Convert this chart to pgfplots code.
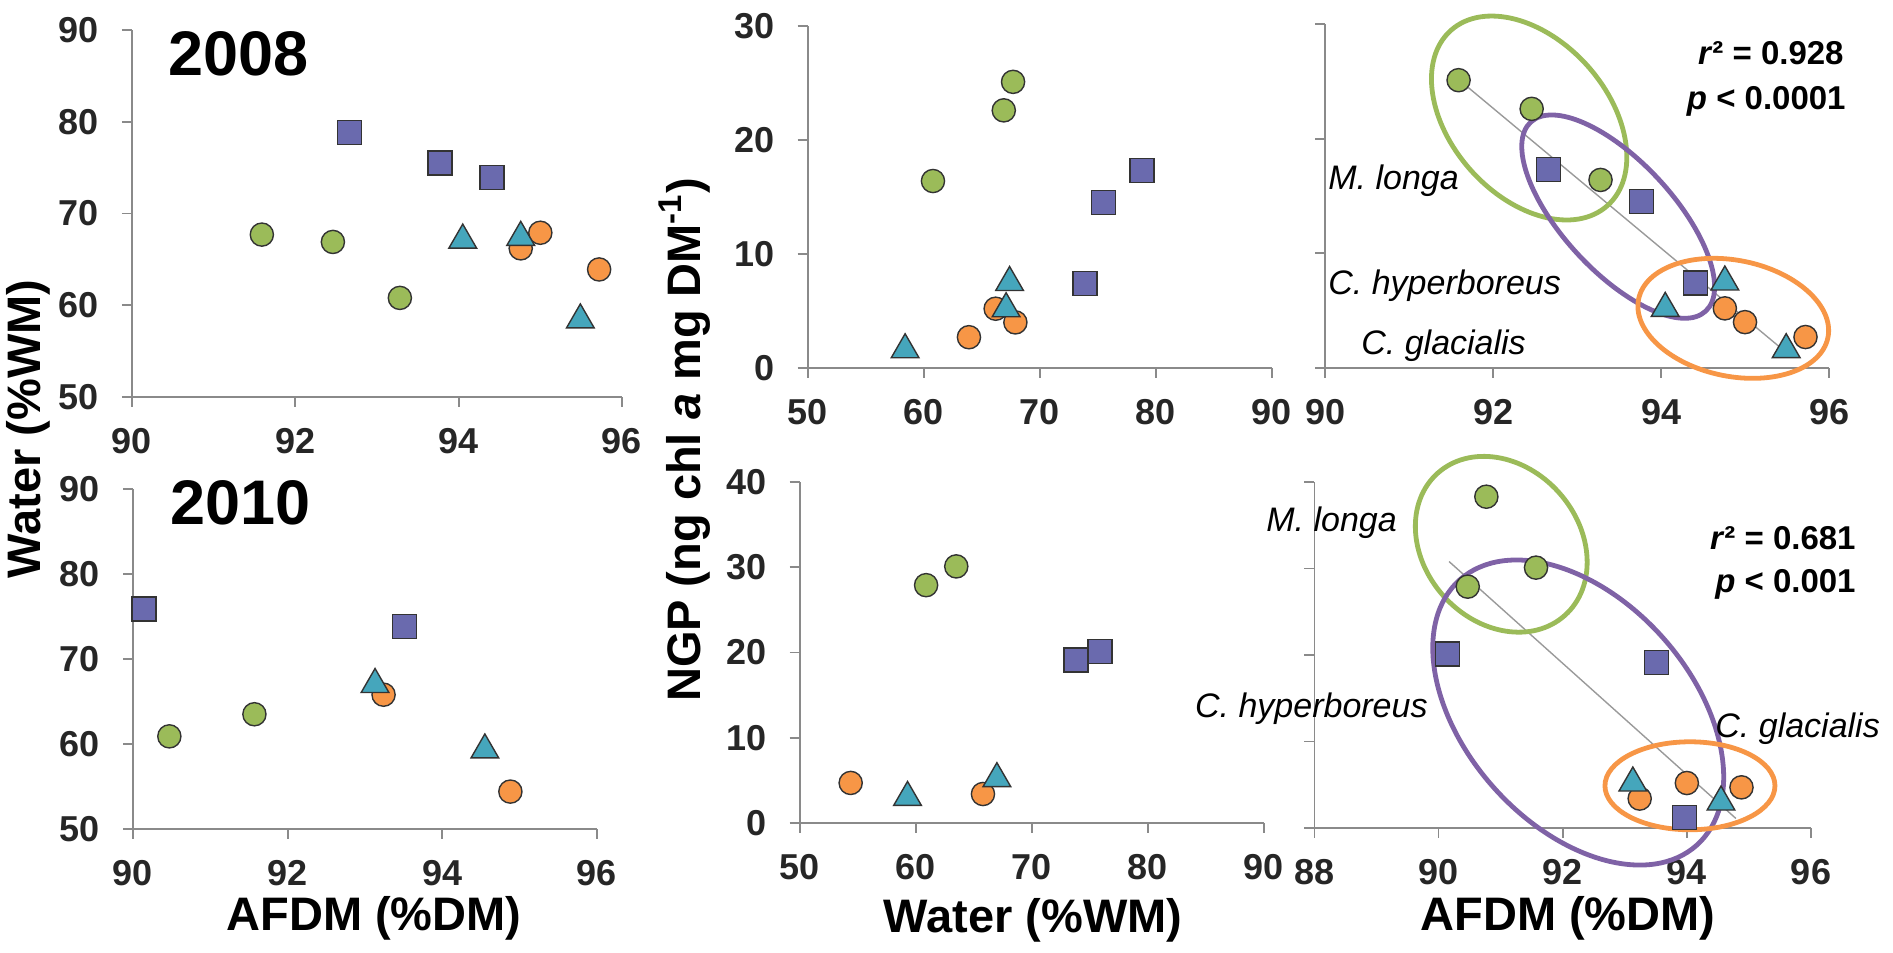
\documentclass[border=0pt]{standalone}
\usepackage{pgfplots}
\pgfplotsset{compat=1.18}
\usetikzlibrary{shapes.geometric}
\usepackage{fontspec}
\setmainfont{Liberation Sans}
\definecolor{axgray}{HTML}{8A8A8A}
\definecolor{cgreen}{HTML}{9BBB59}
\definecolor{cpurp}{HTML}{6A6AAE}
\definecolor{cteal}{HTML}{45A6BC}
\definecolor{corange}{HTML}{F79646}
\definecolor{epurp}{HTML}{7F62A6}
\definecolor{regline}{HTML}{9A9A9A}
\pgfplotsset{
  base/.style={scale only axis, clip=false, anchor=south west,
    axis lines*=left, axis line style={draw=axgray,line width=0.9pt,-},
    tick style={draw=axgray,line width=0.9pt},
    tick align=outside, major tick length=5pt,
    /pgf/number format/assume math mode=true,
    tick label style={font=\fontsize{18}{21}\selectfont\bfseries, text=black!85},
    xticklabel style={yshift=-7pt}, yticklabel style={xshift=-8pt},
    enlargelimits=false},
  mg/.style={only marks, mark=*, mark size=5.8pt, mark options={fill=cgreen, draw=black!80, line width=0.7pt}},
  ms/.style={only marks, mark=square*, mark size=6pt, mark options={fill=cpurp, draw=black!80, line width=0.7pt}},
  mt/.style={only marks, mark=triangle*, mark size=8pt, mark options={fill=cteal, draw=black!80, line width=0.7pt}},
  mo/.style={only marks, mark=*, mark size=5.8pt, mark options={fill=corange, draw=black!80, line width=0.7pt}},
}
\tikzset{ell/.style={draw=#1, line width=2.4pt, ellipse, inner sep=0pt, outer sep=0pt}}
\begin{document}
\begin{tikzpicture}
\path[use as bounding box] (0,0) rectangle (946.5pt,476pt);

% ---- 2008 AFDM vs Water
\begin{axis}[base, at={(66pt,277.5pt)}, width=245pt, height=183.5pt,
  xmin=90, xmax=96, ymin=50, ymax=90, xtick={90,92,94,96}, ytick={50,60,70,80,90}]
\addplot[mg] coordinates {(91.59,67.7) (92.46,66.9) (93.28,60.8)};
\addplot[ms] coordinates {(92.66,78.8) (93.77,75.5) (94.41,73.9)};
\addplot[mo] coordinates {(94.76,66.2) (95.0,67.9) (95.72,63.9)};
\addplot[mt] coordinates {(94.05,67.1) (94.76,67.4) (95.49,58.4)};
\end{axis}

% ---- 2010 AFDM vs Water
\begin{axis}[base, at={(66.5pt,61.5pt)}, width=232pt, height=170pt,
  xmin=90, xmax=96, ymin=50, ymax=90, xtick={90,92,94,96}, ytick={50,60,70,80,90}]
\addplot[mg] coordinates {(90.47,60.9) (91.57,63.5)};
\addplot[ms] coordinates {(90.14,75.9) (93.51,73.8)};
\addplot[mo] coordinates {(93.24,65.8) (94.88,54.4)};
\addplot[mt] coordinates {(93.13,67.0) (94.55,59.3)};
\end{axis}

% ---- 2008 Water vs NGP
\begin{axis}[base, at={(403.8pt,292pt)}, width=232.15pt, height=171pt,
  xmin=50, xmax=90, ymin=0, ymax=30, xtick={50,60,70,80,90}, ytick={0,10,20,30}]
\addplot[mg] coordinates {(67.7,25.1) (66.9,22.6) (60.8,16.4)};
\addplot[ms] coordinates {(78.8,17.3) (75.5,14.5) (73.9,7.4)};
\addplot[mo] coordinates {(66.2,5.2) (67.9,4.0) (63.9,2.7)};
\addplot[mt] coordinates {(67.1,5.2) (67.4,7.5) (58.4,1.6)};
\end{axis}

% ---- 2010 Water vs NGP
\begin{axis}[base, at={(399.8pt,64.5pt)}, width=232.1pt, height=170.5pt,
  xmin=50, xmax=90, ymin=0, ymax=40, xtick={50,60,70,80,90}, ytick={0,10,20,30,40}]
\addplot[mg] coordinates {(60.9,27.9) (63.5,30.1)};
\addplot[ms] coordinates {(75.9,20.1) (73.8,19.1)};
\addplot[mo] coordinates {(65.8,3.4) (54.4,4.7)};
\addplot[mt] coordinates {(67.0,5.2) (59.3,3.0)};
\end{axis}

% ---- 2008 AFDM vs NGP
\begin{axis}[base, at={(662.5pt,292pt)}, width=252pt, height=172pt,
  xmin=90, xmax=96, ymin=0, ymax=30, xtick={90,92,94,96}, ytick={0,10,20,30}, yticklabels={}]
\addplot[regline, line width=0.7pt, no marks] coordinates {(91.6,25.1) (95.45,1.6)};
\addplot[mg] coordinates {(91.59,25.1) (92.46,22.6) (93.28,16.4)};
\addplot[ms] coordinates {(92.66,17.3) (93.77,14.5) (94.41,7.4)};
\addplot[mo] coordinates {(94.76,5.2) (95.0,4.0) (95.72,2.7)};
\addplot[mt] coordinates {(94.05,5.2) (94.76,7.5) (95.49,1.6)};
\node[ell=cgreen, minimum width=117.5pt, minimum height=78.3pt, rotate=-48.2] at (axis cs:92.43,21.8) {};
\node[ell=epurp, minimum width=128.8pt, minimum height=55.1pt, rotate=-47.2] at (axis cs:93.49,13.2) {};
\node[ell=corange, minimum width=96.6pt, minimum height=58pt, rotate=-11.5] at (axis cs:94.86,4.33) {};
\end{axis}

% ---- 2010 AFDM vs NGP
\begin{axis}[base, at={(657.2pt,62pt)}, width=248.3pt, height=173pt,
  xmin=88, xmax=96, ymin=0, ymax=40, xtick={88,90,92,94,96}, ytick={0,10,20,30,40}, yticklabels={}]
\addplot[regline, line width=0.7pt, no marks] coordinates {(90.17,30.8) (94.79,1.1)};
\addplot[mg] coordinates {(90.77,38.3) (91.57,30.1) (90.47,27.9)};
\addplot[ms] coordinates {(90.14,20.1) (93.51,19.1) (93.96,1.2)};
\addplot[mo] coordinates {(93.24,3.4) (94.0,5.2) (94.88,4.7)};
\addplot[mt] coordinates {(93.13,5.2) (94.55,3.0)};
\node[ell=cgreen, minimum width=95.4pt, minimum height=77.5pt, rotate=-48.2] at (axis cs:91.01,32.8) {};
\node[ell=epurp, minimum width=177.9pt, minimum height=113pt, rotate=-48.2] at (axis cs:92.25,13.35) {};
\node[ell=corange, minimum width=85pt, minimum height=44pt] at (axis cs:94.05,4.88) {};
\end{axis}

% ---- texts
\node[anchor=base west, inner sep=0pt, font=\fontsize{31.5}{36}\selectfont\bfseries] at (84pt,438pt) {2008};
\node[anchor=base west, inner sep=0pt, font=\fontsize{31.5}{36}\selectfont\bfseries] at (85pt,213.5pt) {2010};
\node[anchor=base, rotate=90, inner sep=0pt, font=\fontsize{23.5}{28}\selectfont\bfseries] at (20pt,261.5pt) {Water (\%WM)};
\node[anchor=base, rotate=90, inner sep=0pt, font=\fontsize{23.5}{28}\selectfont\bfseries] at (350pt,256pt) {NGP (ng chl \textit{a} mg DM\textsuperscript{-1})};
\node[anchor=base, inner sep=0pt, font=\fontsize{23.5}{28}\selectfont\bfseries] at (187pt,11pt) {AFDM (\%DM)};
\node[anchor=base, inner sep=0pt, font=\fontsize{23.5}{28}\selectfont\bfseries] at (516.5pt,9.5pt) {Water (\%WM)};
\node[anchor=base, inner sep=0pt, font=\fontsize{23.5}{28}\selectfont\bfseries] at (784pt,11pt) {AFDM (\%DM)};
% top right annotations
\node[anchor=base west, inner sep=0pt, font=\fontsize{17}{20}\selectfont\itshape] at (664pt,381pt) {M. longa};
\node[anchor=base west, inner sep=0pt, font=\fontsize{17}{20}\selectfont\itshape] at (664pt,328.5pt) {C. hyperboreus};
\node[anchor=base west, inner sep=0pt, font=\fontsize{17}{20}\selectfont\itshape] at (680.5pt,298.5pt) {C. glacialis};
\node[anchor=base east, inner sep=0pt, font=\fontsize{16.5}{19}\selectfont\bfseries] at (922pt,443.5pt) {\textit{r}² = 0.928};
\node[anchor=base east, inner sep=0pt, font=\fontsize{16.5}{19}\selectfont\bfseries] at (923pt,421pt) {\textit{p} < 0.0001};
% bottom right annotations
\node[anchor=base west, inner sep=0pt, font=\fontsize{17}{20}\selectfont\itshape] at (633pt,210pt) {M. longa};
\node[anchor=base east, inner sep=0pt, font=\fontsize{17}{20}\selectfont\itshape] at (714pt,117pt) {C. hyperboreus};
\node[anchor=base west, inner sep=0pt, font=\fontsize{17}{20}\selectfont\itshape] at (857.5pt,107pt) {C. glacialis};
\node[anchor=base east, inner sep=0pt, font=\fontsize{16.5}{19}\selectfont\bfseries] at (928pt,201pt) {\textit{r}² = 0.681};
\node[anchor=base east, inner sep=0pt, font=\fontsize{16.5}{19}\selectfont\bfseries] at (928pt,179.5pt) {\textit{p} < 0.001};
\end{tikzpicture}
\end{document}
